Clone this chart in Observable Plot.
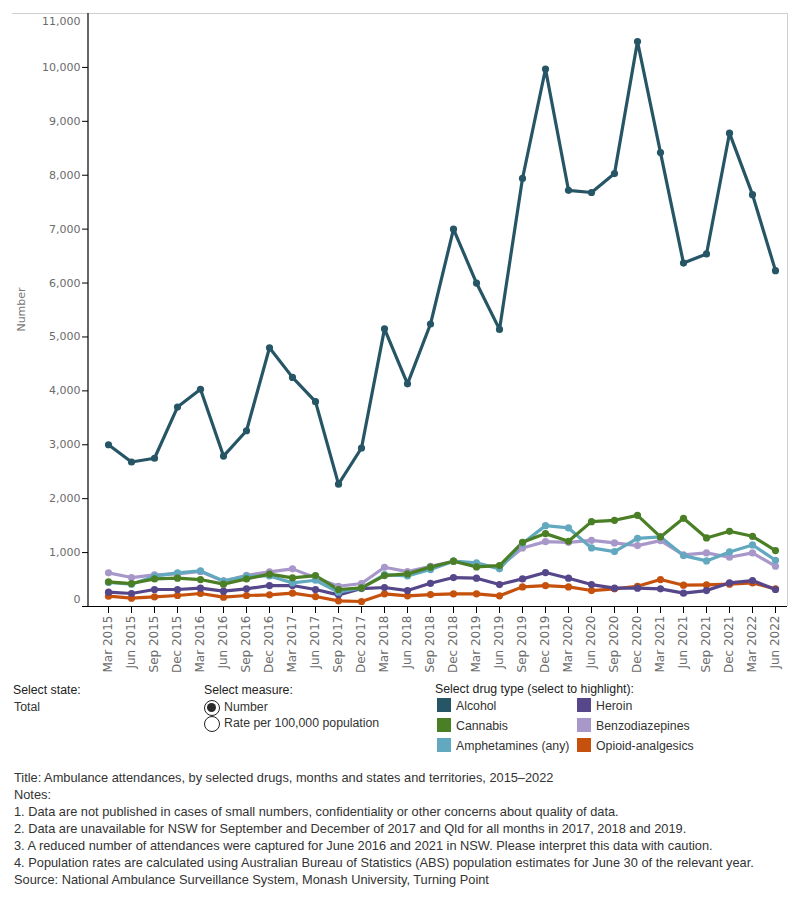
<!DOCTYPE html>
<html><head><meta charset="utf-8">
<script src="https://cdn.jsdelivr.net/npm/d3@7"></script>
<script src="https://cdn.jsdelivr.net/npm/@observablehq/plot@0.6"></script>
<style>
body{margin:0;background:#fff;font-family:"Liberation Sans",Arial,sans-serif;}
#wrap{position:relative;width:800px;height:900px;overflow:hidden;}
#chart{position:absolute;left:0;top:0;}
.t{position:absolute;font-size:12.3px;color:#333;white-space:nowrap;line-height:14px;}
.sw{position:absolute;width:14px;height:14px;}
.radio{position:absolute;width:16px;height:16px;border:1.2px solid #222;border-radius:50%;box-sizing:border-box;background:#fff;}
.radio.on::after{content:"";position:absolute;left:2.4px;top:2.4px;width:9px;height:9px;border-radius:50%;background:#2a2a2a;}
</style></head><body><div id="wrap"><div id="chart"></div></div>
<script>
const periods = ["Mar 2015","Jun 2015","Sep 2015","Dec 2015","Mar 2016","Jun 2016","Sep 2016","Dec 2016",
  "Mar 2017","Jun 2017","Sep 2017","Dec 2017","Mar 2018","Jun 2018","Sep 2018","Dec 2018",
  "Mar 2019","Jun 2019","Sep 2019","Dec 2019","Mar 2020","Jun 2020","Sep 2020","Dec 2020",
  "Mar 2021","Jun 2021","Sep 2021","Dec 2021","Mar 2022","Jun 2022"];
const drugs = ["Alcohol","Cannabis","Amphetamines (any)","Heroin","Benzodiazepines","Opioid-analgesics"];
const colors = ["#265666","#4b7f25","#62a9c0","#55478a","#a898ca","#c5510c"];
const yTicks = [0,1000,2000,3000,4000,5000,6000,7000,8000,9000,10000,11000];

const alcohol = [3000,2680,2750,3700,4030,2790,3260,4800,4250,3800,2270,2940,5150,4130,5240,7000,
  6000,5140,7940,9970,7720,7680,8030,10480,8420,6370,6540,8780,7640,6230];
const cannabis = [457,426,512,525,500,414,512,600,531,574,315,346,574,605,730,840,
  735,759,1191,1352,1210,1574,1599,1691,1290,1636,1272,1395,1302,1037];
const amphetamines = [445,414,562,624,660,475,565,567,438,487,265,346,593,567,685,840,
  809,698,1167,1500,1457,1086,1019,1265,1290,944,846,1012,1142,858];
const heroin = [265,241,315,315,340,284,327,389,389,315,216,333,352,296,430,537,
  525,407,512,630,525,407,340,340,327,247,296,438,481,315];
const benzodiazepines = [624,537,586,605,650,469,580,642,698,535,376,426,728,648,745,840,
  778,735,1086,1204,1191,1228,1179,1130,1222,957,994,914,994,747];
const opioids = [191,154,179,204,241,173,204,216,247,185,105,93,235,198,222,235,
  235,198,364,389,364,296,327,376,500,395,401,414,438,327];

const series = {"Alcohol":alcohol,"Cannabis":cannabis,"Amphetamines (any)":amphetamines,
  "Heroin":heroin,"Benzodiazepines":benzodiazepines,"Opioid-analgesics":opioids};
const drawOrder = ["Opioid-analgesics","Benzodiazepines","Heroin","Amphetamines (any)","Cannabis","Alcohol"];
const data = [];
for (const d of drawOrder) series[d].forEach((v,i)=>data.push({drug:d, period:periods[i], value:v}));

const W = 800, H = 680, L = 88, R = 787, T = 13, B = 606;
const plot = Plot.plot({
  width: W, height: H,
  marginTop: T, marginBottom: H - B, marginLeft: L, marginRight: W - R,
  style: {background: "#fff", overflow: "visible"},
  x: {type: "point", domain: periods, range: [103.3, 780], padding: 0},
  y: {domain: [0, 11000], range: [B, T]},
  color: {domain: drugs, range: colors},
  marks: [
    Plot.ruleY([11000], {stroke: "#cfcfcf", strokeWidth: 1}),
    Plot.axisY({ticks: yTicks, tickFormat: d3.format(","), tickSize: 6, tickPadding: 2,
      fontSize: 11, fontFamily: "DejaVu Sans", label: null, stroke: "#000"}),
    Plot.axisX({tickRotate: -90, tickSize: 7, tickPadding: 2, fontSize: 12,
      fontFamily: "DejaVu Sans", label: null, stroke: "#000"}),
    Plot.line(data, {x: "period", y: "value", z: "drug", stroke: "drug", strokeWidth: 3.2,
      strokeLinejoin: "round", strokeLinecap: "round"}),
    Plot.dot(data, {x: "period", y: "value", fill: "drug", r: 3.6}),
    Plot.ruleY([0], {stroke: "#000", strokeWidth: 1.2})
  ]
});
document.getElementById("chart").appendChild(plot);

const svg = d3.select(plot);
svg.selectAll('g[aria-label="y-axis tick label"] text, g[aria-label="x-axis tick label"] text').attr("fill", "#6b6b6b");
svg.selectAll('g[aria-label="y-axis tick label"], g[aria-label="x-axis tick label"]').attr("fill", "#6b6b6b");
// edge labels nudged inward as in the reference
const yLab = svg.selectAll('g[aria-label="y-axis tick label"] text');
yLab.each(function() {
  const t = d3.select(this).text();
  const tr = d3.select(this).attr("transform") || "";
  if (t === "0") d3.select(this).attr("transform", tr + " translate(0,-7)");
  if (t === "11,000") d3.select(this).attr("transform", tr + " translate(0,8)");
});
// frame decorations
svg.append("line").attr("x1", 12).attr("x2", R).attr("y1", T + 0.5).attr("y2", T + 0.5).attr("stroke", "#cfcfcf");
svg.append("line").attr("x1", R + 0.5).attr("x2", R + 0.5).attr("y1", T).attr("y2", B).attr("stroke", "#cfcfcf");
svg.append("line").attr("x1", L).attr("x2", L).attr("y1", T).attr("y2", B).attr("stroke", "#000").attr("stroke-width", 1.2);
svg.append("text").attr("transform", `translate(22,${(T + B) / 2}) rotate(-90)`)
  .attr("text-anchor", "middle").attr("dominant-baseline", "middle")
  .attr("font-family", "DejaVu Sans").attr("font-size", 11).attr("fill", "#777").text("Number");

// legend / controls / notes (HTML below the chart)
const wrap = document.getElementById("wrap");
function txt(s, x, yc, extra) {
  const e = document.createElement("div"); e.className = "t"; e.textContent = s;
  e.style.left = x + "px"; e.style.top = (yc - 7) + "px";
  if (extra) Object.assign(e.style, extra);
  wrap.appendChild(e); return e;
}
txt("Select state:", 13, 690, {color: "#222"});
txt("Total", 14, 707);
txt("Select measure:", 204, 690, {color: "#222"});
const r1 = document.createElement("div"); r1.className = "radio on"; r1.style.left = "203.5px"; r1.style.top = "699.5px"; wrap.appendChild(r1);
const r2 = document.createElement("div"); r2.className = "radio"; r2.style.left = "203.5px"; r2.style.top = "715.5px"; wrap.appendChild(r2);
txt("Number", 224, 707);
txt("Rate per 100,000 population", 224, 723);
txt("Select drug type (select to highlight):", 435, 689, {color: "#222"});
const legendCols = [[0,1,2],[3,4,5]];
legendCols.forEach((col, ci) => col.forEach((di, ri) => {
  const x = ci === 0 ? 437 : 577;
  const yc = 705 + ri * 20;
  const s = document.createElement("div"); s.className = "sw"; s.style.background = colors[di];
  s.style.left = x + "px"; s.style.top = (yc - 7) + "px"; wrap.appendChild(s);
  txt(drugs[di], x + 19, yc + 0.5);
}));
const notes = ["Title: Ambulance attendances, by selected drugs, months and states and territories, 2015–2022",
  "Notes:",
  "1. Data are not published in cases of small numbers, confidentiality or other concerns about quality of data.",
  "2. Data are unavailable for NSW for September and December of 2017 and Qld for all months in 2017, 2018 and 2019.",
  "3. A reduced number of attendances were captured for June 2016 and 2021 in NSW. Please interpret this data with caution.",
  "4. Population rates are calculated using Australian Bureau of Statistics (ABS) population estimates for June 30 of the relevant year.",
  "Source: National Ambulance Surveillance System, Monash University, Turning Point"];
notes.forEach((n, i) => txt(n, 14, 778 + i * 17, {fontSize: "12.8px"}));
</script></body></html>
